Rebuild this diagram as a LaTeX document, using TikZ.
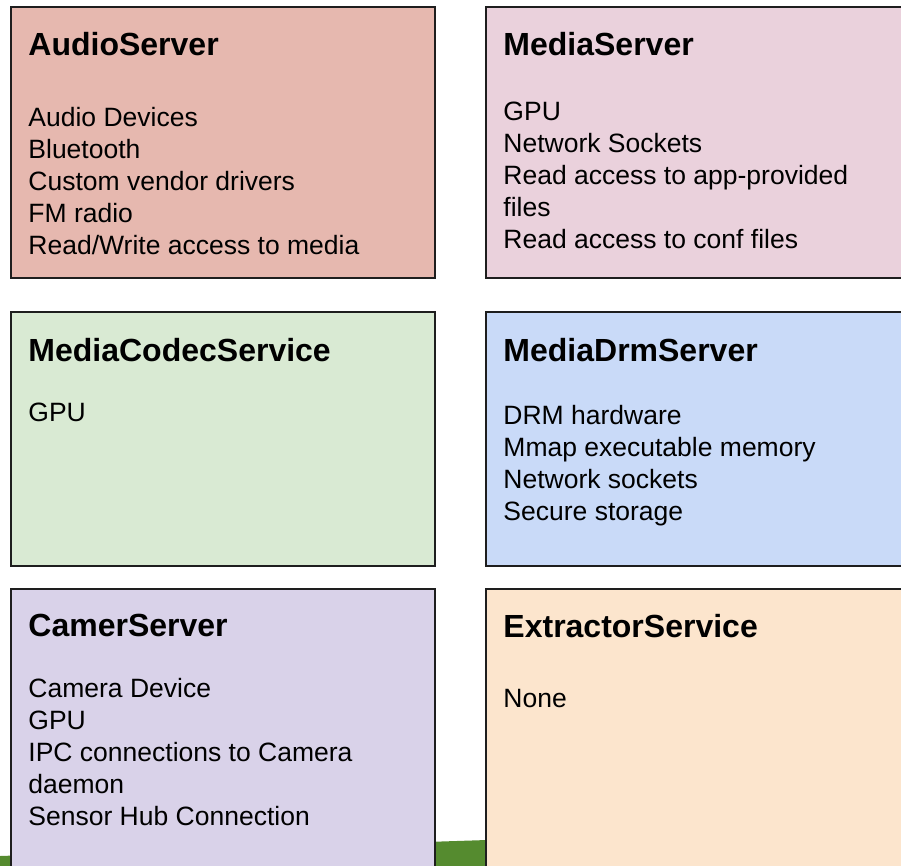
\documentclass[tikz,border=0pt]{standalone}
\usepackage{fontspec}
\setmainfont{Liberation Sans}
\usepackage{tikz}

\definecolor{audiored}{HTML}{E6B8AF}
\definecolor{mediapink}{HTML}{EAD1DC}
\definecolor{codecgreen}{HTML}{D9EAD3}
\definecolor{drmblue}{HTML}{C9DAF8}
\definecolor{campurple}{HTML}{D9D2E9}
\definecolor{extorange}{HTML}{FCE5CD}
\definecolor{slidegreen}{HTML}{558B2F}
\definecolor{boxline}{HTML}{1E1E1E}

\begin{document}
\begin{tikzpicture}[x=1pt, y=-1pt,
    box/.style={rectangle, draw=boxline, line width=1.5pt, inner sep=0pt},
    title/.style={anchor=base west, inner sep=0pt, font=\fontsize{32}{38}\selectfont\bfseries},
    body/.style={anchor=base west, inner sep=0pt, align=left, font=\fontsize{26.5}{32}\selectfont}]
    \useasboundingbox (0,0) rectangle (901,866);

    % green band of the slide behind the boxes
    \fill[slidegreen] (0,856) -- (487,840) -- (901,828) -- (901,866) -- (0,866) -- cycle;

    \node[box, fill=audiored, minimum width=424pt, minimum height=271pt] at (223,142.5) (audio) {};
    \node[box, fill=mediapink, minimum width=420pt, minimum height=271pt] at (696,142.5) (media) {};
    \node[box, fill=codecgreen, minimum width=424pt, minimum height=254pt] at (223,439) (codec) {};
    \node[box, fill=drmblue, minimum width=420pt, minimum height=254pt] at (696,439) (drm) {};
    \node[box, fill=campurple, minimum width=424pt, minimum height=292pt] at (223,735) (camera) {};
    \node[box, fill=extorange, minimum width=420pt, minimum height=292pt] at (696,735) (extractor) {};

    \node[title] at ([shift={(18,49)}]audio.north west) (audiotitle) {AudioServer};
    \node[title] at ([shift={(18,49)}]media.north west) (mediatitle) {MediaServer};
    \node[title] at ([shift={(18,50)}]codec.north west) (codectitle) {MediaCodecService};
    \node[title] at ([shift={(18,50)}]drm.north west) (drmtitle) {MediaDrmServer};
    \node[title] at ([shift={(18,48)}]camera.north west) (cameratitle) {CamerServer};
    \node[title] at ([shift={(18,49)}]extractor.north west) (extractortitle) {ExtractorService};

    % base of a multi-line node is its last line
    \node[body] at ([shift={(18,248)}]audio.north west) (audiotext)
        {Audio Devices\\Bluetooth\\Custom vendor drivers\\FM radio\\Read/Write access to media};
    \node[body] at ([shift={(18,242)}]media.north west) (mediatext)
        {GPU\\Network Sockets\\Read access to app-provided\\files\\Read access to conf files};
    \node[body] at ([shift={(18,110)}]codec.north west) (codectext) {GPU};
    \node[body] at ([shift={(18,209)}]drm.north west) (drmtext)
        {DRM hardware\\Mmap executable memory\\Network sockets\\Secure storage};
    \node[body] at ([shift={(18,237)}]camera.north west) (cameratext)
        {Camera Device\\GPU\\IPC connections to Camera\\daemon\\Sensor Hub Connection};
    \node[body] at ([shift={(18,119)}]extractor.north west) (extractortext) {None};
\end{tikzpicture}
\end{document}
